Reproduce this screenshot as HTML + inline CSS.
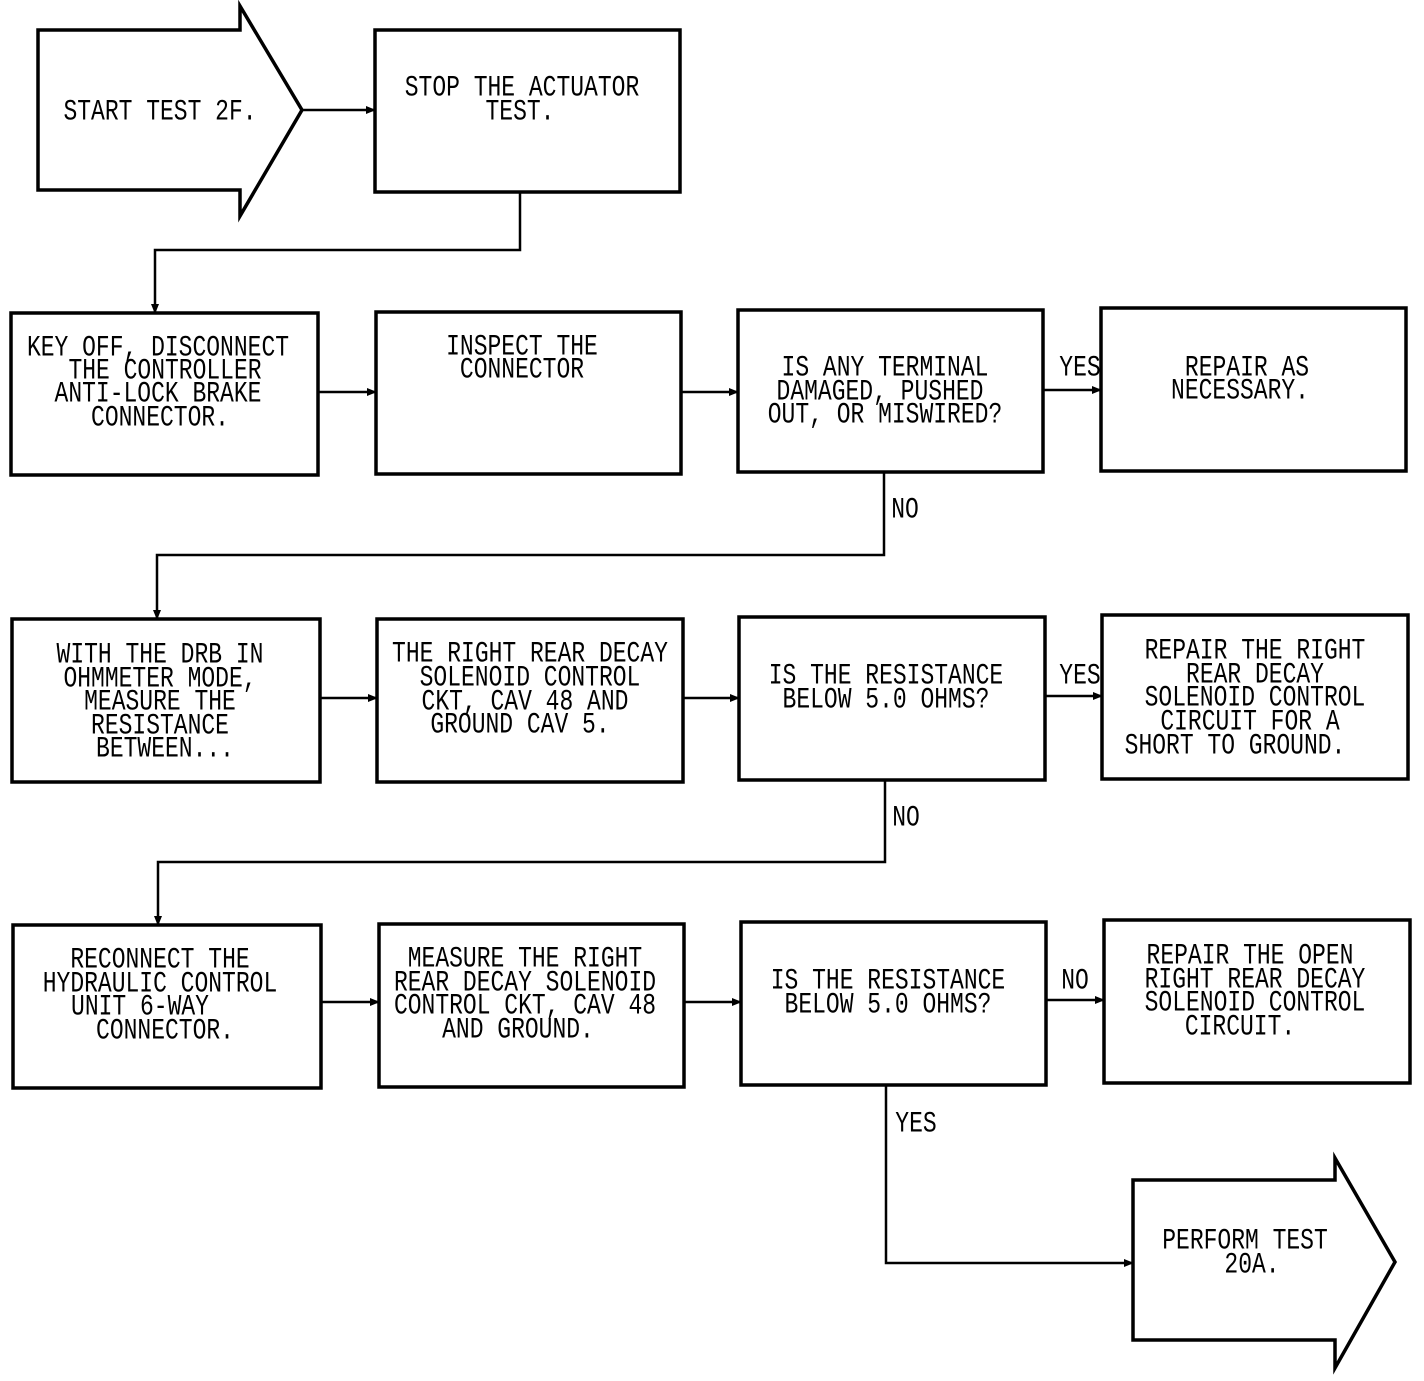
<!DOCTYPE html>
<html><head><style>
body{margin:0;background:#fff}
svg text{font-family:"Liberation Mono",monospace;font-size:23px;fill:#000;text-anchor:middle;transform-box:fill-box;transform-origin:center;transform:scaleY(1.3)}
</style></head><body>
<svg width="1424" height="1376" viewBox="0 0 1424 1376" xmlns="http://www.w3.org/2000/svg">
<defs><marker id="a" markerWidth="10" markerHeight="10" refX="9" refY="5" orient="auto" markerUnits="userSpaceOnUse"><path d="M0,1 L10,5 L0,9 z" fill="#000"/></marker></defs>
<g fill="none" stroke="#000" stroke-width="3.5">
<polygon points="38,30 240,30 240,6 302,110 240,216 240,190 38,190"/>
<rect x="375" y="30" width="305" height="162"/>
<rect x="11" y="313" width="307" height="162"/>
<rect x="376" y="312" width="305" height="162"/>
<rect x="738" y="310" width="305" height="162"/>
<rect x="1101" y="308" width="305" height="163"/>
<rect x="12" y="619" width="308" height="163"/>
<rect x="377" y="619" width="306" height="163"/>
<rect x="739" y="617" width="306" height="163"/>
<rect x="1102" y="615" width="306" height="164"/>
<rect x="13" y="925" width="308" height="163"/>
<rect x="379" y="924" width="305" height="163"/>
<rect x="741" y="922" width="305" height="163"/>
<rect x="1104" y="920" width="306" height="163"/>
<polygon points="1133,1180 1335,1180 1335,1158 1395,1262 1335,1368 1335,1340 1133,1340"/>
</g>
<g fill="none" stroke="#000" stroke-width="2.5" marker-end="url(#a)">
<path d="M302,110 H375"/>
<path d="M520,192 V250 H155 V313"/>
<path d="M318,392 H376"/>
<path d="M681,392 H738"/>
<path d="M1043,390 H1101"/>
<path d="M884,472 V555 H157 V619"/>
<path d="M320,698 H377"/>
<path d="M683,698 H739"/>
<path d="M1045,696 H1102"/>
<path d="M885,780 V862 H158 V925"/>
<path d="M321,1002 H379"/>
<path d="M684,1002 H741"/>
<path d="M1046,1000 H1104"/>
<path d="M886,1085 V1263 H1133"/>
</g>
<g>
<text x="160" y="118">START TEST 2F.</text>
<text x="522" y="94">STOP THE ACTUATOR</text><text x="520" y="118">TEST.</text>
<text x="158" y="354">KEY OFF, DISCONNECT</text><text x="165" y="377">THE CONTROLLER</text><text x="158" y="400">ANTI-LOCK BRAKE</text><text x="160" y="424">CONNECTOR.</text>
<text x="522" y="353">INSPECT THE</text><text x="522" y="376">CONNECTOR</text>
<text x="885" y="374">IS ANY TERMINAL</text><text x="880" y="398">DAMAGED, PUSHED</text><text x="885" y="421">OUT, OR MISWIRED?</text>
<text x="1080" y="374">YES</text>
<text x="1247" y="374">REPAIR AS</text><text x="1240" y="397">NECESSARY.</text>
<text x="905" y="516">NO</text>
<text x="160" y="661">WITH THE DRB IN</text><text x="160" y="685">OHMMETER MODE,</text><text x="160" y="708">MEASURE THE</text><text x="160" y="732">RESISTANCE</text><text x="165" y="755">BETWEEN...</text>
<text x="530" y="660">THE RIGHT REAR DECAY</text><text x="530" y="684">SOLENOID CONTROL</text><text x="525" y="708">CKT, CAV 48 AND</text><text x="520" y="731">GROUND CAV 5.</text>
<text x="886" y="682">IS THE RESISTANCE</text><text x="886" y="706">BELOW 5.0 OHMS?</text>
<text x="1080" y="682">YES</text>
<text x="1255" y="657">REPAIR THE RIGHT</text><text x="1255" y="681">REAR DECAY</text><text x="1255" y="704">SOLENOID CONTROL</text><text x="1250" y="728">CIRCUIT FOR A</text><text x="1235" y="752">SHORT TO GROUND.</text>
<text x="906" y="824">NO</text>
<text x="160" y="966">RECONNECT THE</text><text x="160" y="990">HYDRAULIC CONTROL</text><text x="140" y="1013">UNIT 6-WAY</text><text x="165" y="1037">CONNECTOR.</text>
<text x="525" y="965">MEASURE THE RIGHT</text><text x="525" y="989">REAR DECAY SOLENOID</text><text x="525" y="1012">CONTROL CKT, CAV 48</text><text x="518" y="1036">AND GROUND.</text>
<text x="888" y="987">IS THE RESISTANCE</text><text x="888" y="1011">BELOW 5.0 OHMS?</text>
<text x="1075" y="987">NO</text>
<text x="1250" y="962">REPAIR THE OPEN</text><text x="1255" y="986">RIGHT REAR DECAY</text><text x="1255" y="1009">SOLENOID CONTROL</text><text x="1240" y="1033">CIRCUIT.</text>
<text x="916" y="1130">YES</text>
<text x="1245" y="1247">PERFORM TEST</text><text x="1252" y="1271">20A.</text>
</g>
</svg>
</body></html>
